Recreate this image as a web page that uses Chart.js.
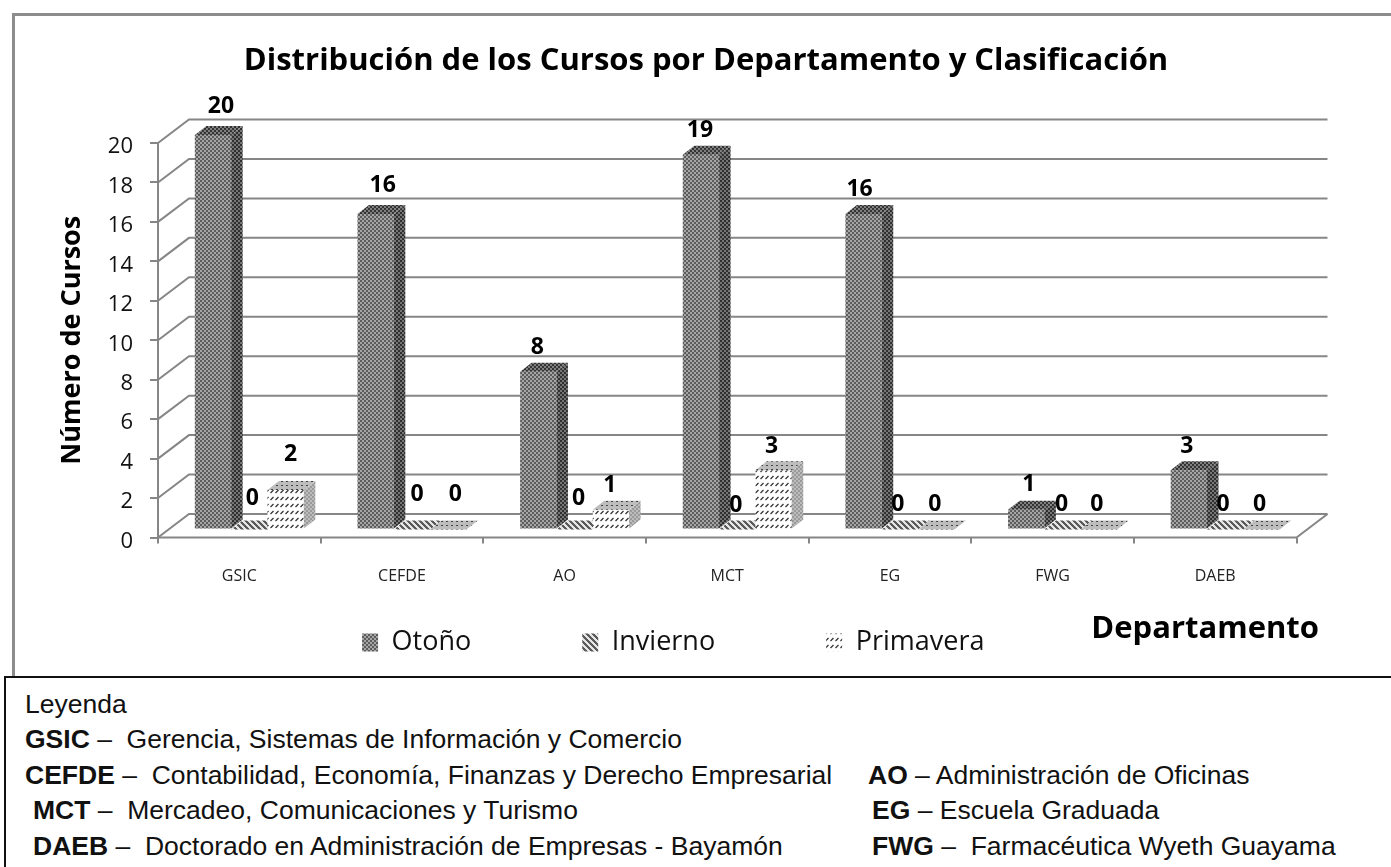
<!DOCTYPE html>
<html lang="es">
<head>
<meta charset="utf-8">
<title>Distribución de los Cursos</title>
<script src="https://cdn.jsdelivr.net/npm/chart.js@4"></script>
<style>
html,body{margin:0;padding:0;background:#fff;width:1391px;height:867px;overflow:hidden}
#frame{position:absolute;left:12px;top:13px;width:1400px;height:700px;border-left:3px solid #8c8c8c;border-top:3px solid #8c8c8c}
#cv{position:absolute;left:0;top:0}
#box{position:absolute;left:4px;top:676px;width:1400px;height:200px;border:2px solid #111;background:#fff}
.l{position:absolute;font-family:"Liberation Sans",Arial,sans-serif;font-size:26.5px;line-height:30px;color:#111;white-space:pre}
.l b{font-weight:bold}
</style>
</head>
<body>
<div id="frame"></div>
<canvas id="cv" width="1391" height="677"></canvas>
<div id="box"></div>
<div class="l" style="left:25px;top:689px">Leyenda</div>
<div class="l" style="left:25px;top:724px"><b>GSIC</b> –  Gerencia, Sistemas de Información y Comercio</div>
<div class="l" style="left:25px;top:760px"><b>CEFDE</b> –  Contabilidad, Economía, Finanzas y Derecho Empresarial</div>
<div class="l" style="left:868px;top:760px"><b>AO</b> – Administración de Oficinas</div>
<div class="l" style="left:33px;top:795px"><b>MCT</b> –  Mercadeo, Comunicaciones y Turismo</div>
<div class="l" style="left:872px;top:795px"><b>EG</b> – Escuela Graduada</div>
<div class="l" style="left:33px;top:831px"><b>DAEB</b> –  Doctorado en Administración de Empresas - Bayamón</div>
<div class="l" style="left:872px;top:831px"><b>FWG</b> –  Farmacéutica Wyeth Guayama</div>
<script>
const categories = ["GSIC","CEFDE","AO","MCT","EG","FWG","DAEB"];
const otono = [20,16,8,19,16,1,3];
const invierno = [0,0,0,0,0,0,0];
const primavera = [2,0,1,3,0,0,0];
const seriesNames = ["Otoño","Invierno","Primavera"];
const labelShiftX = [[8,7,-1,-1,-4,2.5,-2],[3,5,4,-1.5,-2,-1,-2],[5,7,-1,-2,-1.5,-2,-2]];
const labelShiftY = [[-29,-28,-24,-24,-24,-25,-24],[-31,-35,-31,-24,-25,-25,-25],[-36,-35,-24,-24,-25,-25,-25]];

const UI = '"Open Sans",sans-serif';
const AXIS = '#868686';
function tile(w,h,paint){const c=document.createElement('canvas');c.width=w;c.height=h;const x=c.getContext('2d');paint(x);
  return document.getElementById('cv').getContext('2d').createPattern(c,'repeat');}
function checker(a,b){return tile(4,4,x=>{x.fillStyle=a;x.fillRect(0,0,4,4);x.fillStyle=b;x.fillRect(0,0,2,2);x.fillRect(2,2,2,2);});}
function stripes(a,b){return tile(6,6,x=>{x.fillStyle=a;x.fillRect(0,0,6,6);x.fillStyle=b;for(let i=0;i<6;i++){x.fillRect(i,i,3,1);if(i>3)x.fillRect(0,i,i-3,1);}});}
const fills = {
  front:[checker('#5c5c5c','#a6a6a6'),stripes('#e4e4e4','#5a5a5a'),
    tile(5,7,x=>{x.fillStyle='#fff';x.fillRect(0,0,5,7);x.strokeStyle='#333';x.lineWidth=1.3;x.beginPath();x.moveTo(0.5,4);x.lineTo(3.5,1);x.stroke();})],
  top:[checker('#333333','#808080'),stripes('#e4e4e4','#5a5a5a'),
    tile(5,4,x=>{x.fillStyle='#bdbdbd';x.fillRect(0,0,5,4);x.fillStyle='#444';x.fillRect(1,1,2,1);})],
  side:[checker('#303030','#767676'),stripes('#bbbbbb','#555555'),checker('#9a9a9a','#bcbcbc')]
};
const BAR_DX=10, BAR_DY=-8, DEPTH_X=11.5, DEPTH_Y=9, WALL_DX=31, WALL_DY=-23.5;

function drawTop(ctx,bar,s){
  const x0=bar.x-bar.width/2,x1=bar.x+bar.width/2,t=bar.y;
  ctx.fillStyle=fills.top[s];ctx.beginPath();ctx.moveTo(x0,t);ctx.lineTo(x1,t);ctx.lineTo(x1+DEPTH_X,t-DEPTH_Y);ctx.lineTo(x0+DEPTH_X,t-DEPTH_Y);ctx.closePath();ctx.fill();
}
function hasHeight(bar){return bar.base-bar.y>0.5;}

const fake3d = {
  id:'fake3d',
  afterLayout(chart){
    chart.legend.top = 518;
    chart.titleBlock.right = 1362;
    chart.scales.x.right = 1319;
  },
  beforeDatasetsDraw(chart){
    const {ctx,scales:{x,y}}=chart;
    const l=chart.chartArea.left, r=chart.chartArea.right;
    ctx.save();
    ctx.strokeStyle=AXIS;ctx.lineWidth=2;
    y.ticks.forEach(t=>{
      const p=y.getPixelForValue(t.value);
      ctx.beginPath();ctx.moveTo(l,p);ctx.lineTo(l+WALL_DX,p+WALL_DY);ctx.lineTo(r+WALL_DX,p+WALL_DY);ctx.stroke();
    });
    const b=y.getPixelForValue(0);
    ctx.beginPath();ctx.moveTo(l,b);ctx.lineTo(r,b);ctx.lineTo(r+WALL_DX,b+WALL_DY);ctx.stroke();
    ctx.restore();
    ctx.save();ctx.translate(BAR_DX,BAR_DY);
    chart.data.datasets.forEach((d,s)=>{
      chart.getDatasetMeta(s).data.forEach(bar=>{ if(!hasHeight(bar)) drawTop(ctx,bar,s); });
    });
  },
  afterDatasetsDraw(chart){
    const {ctx}=chart;
    for(let s=chart.data.datasets.length-1;s>=0;s--){
      chart.getDatasetMeta(s).data.forEach(bar=>{
        if(!hasHeight(bar)) return;
        const x1=bar.x+bar.width/2,t=bar.y,bs=bar.base;
        ctx.fillStyle=fills.side[s];ctx.beginPath();ctx.moveTo(x1,t);ctx.lineTo(x1+DEPTH_X,t-DEPTH_Y);ctx.lineTo(x1+DEPTH_X,bs-DEPTH_Y);ctx.lineTo(x1,bs);ctx.closePath();ctx.fill();
        drawTop(ctx,bar,s);
      });
    }
    ctx.restore();
    ctx.save();
    ctx.fillStyle='#000';ctx.font='bold 23px '+UI;ctx.textAlign='center';ctx.textBaseline='middle';
    chart.data.datasets.forEach((d,s)=>{
      chart.getDatasetMeta(s).data.forEach((bar,i)=>{
        ctx.fillText(String(d.data[i]),bar.x+BAR_DX+labelShiftX[s][i],bar.y+BAR_DY+labelShiftY[s][i]);
      });
    });
    ctx.restore();
  }
};

new Chart(document.getElementById('cv'),{
  type:'bar',
  data:{labels:categories,datasets:[
    {label:seriesNames[0],data:otono,backgroundColor:fills.front[0],borderWidth:0},
    {label:seriesNames[1],data:invierno,backgroundColor:fills.front[1],borderWidth:0},
    {label:seriesNames[2],data:primavera,backgroundColor:fills.front[2],borderWidth:0}
  ]},
  plugins:[fake3d],
  options:{
    responsive:false,animation:false,
    layout:{padding:{left:50,right:94.5,top:0,bottom:0}},
    datasets:{bar:{categoryPercentage:0.67,barPercentage:1}},
    plugins:{
      tooltip:{enabled:false},
      title:{display:true,text:'Distribución de los Cursos por Departamento y Clasificación',color:'#000',
        font:{family:UI,size:31,weight:'bold'},padding:{top:43,bottom:62.8}},
      legend:{position:'bottom',maxHeight:1,
        labels:{boxWidth:16,boxHeight:18,padding:111,color:'#111',font:{family:UI,size:27}}}
    },
    scales:{
      x:{
        afterFit(s){s.height=138.5;},
        border:{display:false},
        grid:{drawOnChartArea:false,drawTicks:true,tickLength:6,color:AXIS,lineWidth:2},
        ticks:{color:'#222',padding:23.6,font:{family:UI,size:16},maxRotation:0},
        title:{display:true,text:'Departamento',align:'end',color:'#000',font:{family:UI,size:31,weight:'bold'},padding:{top:0,bottom:28}}
      },
      y:{
        min:0,max:20,
        afterFit(s){s.width=108;},
        border:{display:true,color:AXIS,width:2},
        grid:{drawOnChartArea:false,drawTicks:true,tickLength:8,color:AXIS,lineWidth:2},
        ticks:{stepSize:2,color:'#111',padding:17,labelOffset:4,font:{family:UI,size:22}},
        title:{display:true,text:'Número de Cursos',color:'#000',font:{family:UI,size:27,weight:'bold'},padding:{top:6.6,bottom:0}}
      }
    }
  }
});
</script>
</body>
</html>
